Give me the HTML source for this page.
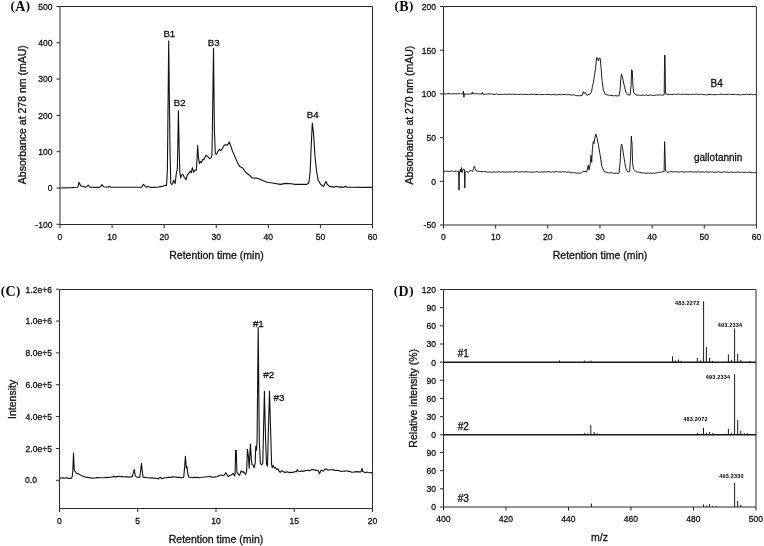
<!DOCTYPE html>
<html><head><meta charset="utf-8"><title>Figure</title>
<style>html,body{margin:0;padding:0;background:#fff;}svg{display:block;}text.s{stroke:#111;stroke-width:0.3px;}</style></head>
<body><svg width="764" height="546" viewBox="0 0 764 546">
<rect x="0" y="0" width="764" height="546" fill="#fff"/>
<line x1="60.0" y1="6.5" x2="372.5" y2="6.5" stroke="#2a2a2a" stroke-width="1"/>
<line x1="60.0" y1="224.5" x2="372.5" y2="224.5" stroke="#2a2a2a" stroke-width="1"/>
<line x1="60.0" y1="6.5" x2="60.0" y2="224.5" stroke="#2a2a2a" stroke-width="1"/>
<line x1="372.5" y1="6.5" x2="372.5" y2="224.5" stroke="#2a2a2a" stroke-width="1"/>
<line x1="56.5" y1="6.5" x2="60.0" y2="6.5" stroke="#2a2a2a" stroke-width="1"/>
<text class="s" transform="translate(52.40 9.80) scale(0.93 1)" font-size="9.2" text-anchor="end" font-family='"Liberation Sans", Arial, sans-serif' fill="#111">500</text>
<line x1="56.5" y1="42.8" x2="60.0" y2="42.8" stroke="#2a2a2a" stroke-width="1"/>
<text class="s" transform="translate(52.40 46.10) scale(0.93 1)" font-size="9.2" text-anchor="end" font-family='"Liberation Sans", Arial, sans-serif' fill="#111">400</text>
<line x1="56.5" y1="79.1" x2="60.0" y2="79.1" stroke="#2a2a2a" stroke-width="1"/>
<text class="s" transform="translate(52.40 82.40) scale(0.93 1)" font-size="9.2" text-anchor="end" font-family='"Liberation Sans", Arial, sans-serif' fill="#111">300</text>
<line x1="56.5" y1="115.39999999999999" x2="60.0" y2="115.39999999999999" stroke="#2a2a2a" stroke-width="1"/>
<text class="s" transform="translate(52.40 118.70) scale(0.93 1)" font-size="9.2" text-anchor="end" font-family='"Liberation Sans", Arial, sans-serif' fill="#111">200</text>
<line x1="56.5" y1="151.7" x2="60.0" y2="151.7" stroke="#2a2a2a" stroke-width="1"/>
<text class="s" transform="translate(52.40 155.00) scale(0.93 1)" font-size="9.2" text-anchor="end" font-family='"Liberation Sans", Arial, sans-serif' fill="#111">100</text>
<line x1="56.5" y1="188.0" x2="60.0" y2="188.0" stroke="#2a2a2a" stroke-width="1"/>
<text class="s" transform="translate(52.40 191.30) scale(0.93 1)" font-size="9.2" text-anchor="end" font-family='"Liberation Sans", Arial, sans-serif' fill="#111">0</text>
<line x1="56.5" y1="224.29999999999998" x2="60.0" y2="224.29999999999998" stroke="#2a2a2a" stroke-width="1"/>
<text class="s" transform="translate(52.40 227.60) scale(0.93 1)" font-size="9.2" text-anchor="end" font-family='"Liberation Sans", Arial, sans-serif' fill="#111">-100</text>
<line x1="60.0" y1="224.5" x2="60.0" y2="228.0" stroke="#2a2a2a" stroke-width="1"/>
<text class="s" transform="translate(60.00 239.90) scale(0.93 1)" font-size="9.2" text-anchor="middle" font-family='"Liberation Sans", Arial, sans-serif' fill="#111">0</text>
<line x1="112.08333333333334" y1="224.5" x2="112.08333333333334" y2="228.0" stroke="#2a2a2a" stroke-width="1"/>
<text class="s" transform="translate(112.08 239.90) scale(0.93 1)" font-size="9.2" text-anchor="middle" font-family='"Liberation Sans", Arial, sans-serif' fill="#111">10</text>
<line x1="164.16666666666669" y1="224.5" x2="164.16666666666669" y2="228.0" stroke="#2a2a2a" stroke-width="1"/>
<text class="s" transform="translate(164.17 239.90) scale(0.93 1)" font-size="9.2" text-anchor="middle" font-family='"Liberation Sans", Arial, sans-serif' fill="#111">20</text>
<line x1="216.25" y1="224.5" x2="216.25" y2="228.0" stroke="#2a2a2a" stroke-width="1"/>
<text class="s" transform="translate(216.25 239.90) scale(0.93 1)" font-size="9.2" text-anchor="middle" font-family='"Liberation Sans", Arial, sans-serif' fill="#111">30</text>
<line x1="268.33333333333337" y1="224.5" x2="268.33333333333337" y2="228.0" stroke="#2a2a2a" stroke-width="1"/>
<text class="s" transform="translate(268.33 239.90) scale(0.93 1)" font-size="9.2" text-anchor="middle" font-family='"Liberation Sans", Arial, sans-serif' fill="#111">40</text>
<line x1="320.4166666666667" y1="224.5" x2="320.4166666666667" y2="228.0" stroke="#2a2a2a" stroke-width="1"/>
<text class="s" transform="translate(320.42 239.90) scale(0.93 1)" font-size="9.2" text-anchor="middle" font-family='"Liberation Sans", Arial, sans-serif' fill="#111">50</text>
<line x1="372.5" y1="224.5" x2="372.5" y2="228.0" stroke="#2a2a2a" stroke-width="1"/>
<text class="s" transform="translate(372.50 239.90) scale(0.93 1)" font-size="9.2" text-anchor="middle" font-family='"Liberation Sans", Arial, sans-serif' fill="#111">60</text>
<text class="s" x="216.5" y="259.2" font-size="10.5" text-anchor="middle" font-weight="normal" font-family='"Liberation Sans", Arial, sans-serif' fill="#111" >Retention time (min)</text>
<text class="s" x="25.7" y="114.7" font-size="10.5" text-anchor="middle" font-weight="normal" font-family='"Liberation Sans", Arial, sans-serif' fill="#111" transform="rotate(-90 25.7 114.7)">Absorbance at 278 nm (mAU)</text>
<text x="10.4" y="10.8" font-size="14" font-weight="bold" font-family='"Liberation Serif", "Times New Roman", serif' fill="#0a0a0a" letter-spacing="0.45"><tspan font-size="13" dy="-0.8">(</tspan><tspan dy="0.8">A</tspan><tspan font-size="13" dy="-0.8">)</tspan></text>
<text class="s" x="163.4" y="37.3" font-size="9.7" text-anchor="start" font-weight="normal" font-family='"Liberation Sans", Arial, sans-serif' fill="#111" >B1</text>
<text class="s" x="173.7" y="105.6" font-size="9.7" text-anchor="start" font-weight="normal" font-family='"Liberation Sans", Arial, sans-serif' fill="#111" >B2</text>
<text class="s" x="207.8" y="45.7" font-size="9.7" text-anchor="start" font-weight="normal" font-family='"Liberation Sans", Arial, sans-serif' fill="#111" >B3</text>
<text class="s" x="306.8" y="118.0" font-size="9.7" text-anchor="start" font-weight="normal" font-family='"Liberation Sans", Arial, sans-serif' fill="#111" >B4</text>
<polyline points="60.5,188.0 71.8,187.6 77.7,187.2 78.5,184.8 79.0,182.2 79.6,183.6 80.8,186.0 83.6,186.4 85.9,187.2 88.3,185.2 89.9,187.2 99.3,187.4 100.8,186.4 102.0,184.6 103.6,186.8 107.9,187.2 109.3,186.2 110.7,187.2 120.0,187.2 141.7,187.2 143.4,184.3 144.9,186.0 146.4,187.2 148.0,186.4 151.1,187.4 157.4,187.2 162.1,186.4 165.3,185.2 166.5,185.6 167.4,170.0 168.7,40.9 170.0,150.0 170.8,183.6 171.6,184.4 172.6,183.8 173.6,180.3 175.1,183.5 176.6,171.2 177.3,170.2 177.9,140.0 178.4,110.9 179.2,150.0 179.8,172.0 180.7,177.8 181.7,174.8 183.2,174.8 184.2,177.3 186.0,179.8 187.2,175.3 189.2,172.7 190.2,171.2 191.2,172.7 192.4,167.7 193.6,172.2 194.8,170.2 196.3,170.3 197.0,160.0 197.6,145.6 198.5,157.5 199.4,163.4 200.5,161.6 201.4,162.5 202.8,159.3 203.7,159.8 206.0,155.2 207.8,156.6 209.7,158.8 211.0,157.9 211.9,155.6 212.4,130.0 213.5,48.2 214.4,130.0 215.3,153.8 216.5,154.3 217.9,151.5 219.3,149.2 220.6,150.6 222.0,149.2 224.3,145.1 226.1,144.7 227.5,145.1 229.3,141.9 230.3,144.7 232.5,151.1 235.3,157.5 238.0,163.9 239.9,166.6 242.6,167.9 245.5,172.0 252.4,177.9 257.9,178.4 267.0,182.3 273.9,183.2 280.3,184.4 285.8,183.4 291.3,183.7 295.0,184.4 306.9,184.4 308.7,183.0 309.1,181.5 310.2,170.8 311.2,146.2 312.3,123.1 313.5,133.0 314.8,154.4 316.5,170.8 318.1,179.9 320.6,184.3 323.6,186.4 325.2,183.0 326.1,181.5 327.2,184.4 329.4,186.4 334.4,187.1 336.6,186.2 338.7,187.1 341.6,186.9 343.8,187.3 345.6,186.2 347.0,187.3 372.0,187.4" fill="none" stroke="#111" stroke-width="1.1" stroke-linejoin="round" shape-rendering="auto"/>
<line x1="443.5" y1="6.5" x2="756.4" y2="6.5" stroke="#2a2a2a" stroke-width="1"/>
<line x1="443.5" y1="225.0" x2="756.4" y2="225.0" stroke="#2a2a2a" stroke-width="1"/>
<line x1="443.5" y1="6.5" x2="443.5" y2="225.0" stroke="#2a2a2a" stroke-width="1"/>
<line x1="756.4" y1="6.5" x2="756.4" y2="225.0" stroke="#2a2a2a" stroke-width="1"/>
<line x1="440.0" y1="6.5" x2="443.5" y2="6.5" stroke="#2a2a2a" stroke-width="1"/>
<text class="s" transform="translate(435.90 9.80) scale(0.93 1)" font-size="9.2" text-anchor="end" font-family='"Liberation Sans", Arial, sans-serif' fill="#111">200</text>
<line x1="440.0" y1="50.2" x2="443.5" y2="50.2" stroke="#2a2a2a" stroke-width="1"/>
<text class="s" transform="translate(435.90 53.50) scale(0.93 1)" font-size="9.2" text-anchor="end" font-family='"Liberation Sans", Arial, sans-serif' fill="#111">150</text>
<line x1="440.0" y1="93.9" x2="443.5" y2="93.9" stroke="#2a2a2a" stroke-width="1"/>
<text class="s" transform="translate(435.90 97.20) scale(0.93 1)" font-size="9.2" text-anchor="end" font-family='"Liberation Sans", Arial, sans-serif' fill="#111">100</text>
<line x1="440.0" y1="137.6" x2="443.5" y2="137.6" stroke="#2a2a2a" stroke-width="1"/>
<text class="s" transform="translate(435.90 140.90) scale(0.93 1)" font-size="9.2" text-anchor="end" font-family='"Liberation Sans", Arial, sans-serif' fill="#111">50</text>
<line x1="440.0" y1="181.3" x2="443.5" y2="181.3" stroke="#2a2a2a" stroke-width="1"/>
<text class="s" transform="translate(435.90 184.60) scale(0.93 1)" font-size="9.2" text-anchor="end" font-family='"Liberation Sans", Arial, sans-serif' fill="#111">0</text>
<line x1="440.0" y1="225.0" x2="443.5" y2="225.0" stroke="#2a2a2a" stroke-width="1"/>
<text class="s" transform="translate(435.90 228.30) scale(0.93 1)" font-size="9.2" text-anchor="end" font-family='"Liberation Sans", Arial, sans-serif' fill="#111">-50</text>
<line x1="443.5" y1="225.0" x2="443.5" y2="228.5" stroke="#2a2a2a" stroke-width="1"/>
<text class="s" transform="translate(443.50 240.40) scale(0.93 1)" font-size="9.2" text-anchor="middle" font-family='"Liberation Sans", Arial, sans-serif' fill="#111">0</text>
<line x1="495.65" y1="225.0" x2="495.65" y2="228.5" stroke="#2a2a2a" stroke-width="1"/>
<text class="s" transform="translate(495.65 240.40) scale(0.93 1)" font-size="9.2" text-anchor="middle" font-family='"Liberation Sans", Arial, sans-serif' fill="#111">10</text>
<line x1="547.8" y1="225.0" x2="547.8" y2="228.5" stroke="#2a2a2a" stroke-width="1"/>
<text class="s" transform="translate(547.80 240.40) scale(0.93 1)" font-size="9.2" text-anchor="middle" font-family='"Liberation Sans", Arial, sans-serif' fill="#111">20</text>
<line x1="599.95" y1="225.0" x2="599.95" y2="228.5" stroke="#2a2a2a" stroke-width="1"/>
<text class="s" transform="translate(599.95 240.40) scale(0.93 1)" font-size="9.2" text-anchor="middle" font-family='"Liberation Sans", Arial, sans-serif' fill="#111">30</text>
<line x1="652.1" y1="225.0" x2="652.1" y2="228.5" stroke="#2a2a2a" stroke-width="1"/>
<text class="s" transform="translate(652.10 240.40) scale(0.93 1)" font-size="9.2" text-anchor="middle" font-family='"Liberation Sans", Arial, sans-serif' fill="#111">40</text>
<line x1="704.25" y1="225.0" x2="704.25" y2="228.5" stroke="#2a2a2a" stroke-width="1"/>
<text class="s" transform="translate(704.25 240.40) scale(0.93 1)" font-size="9.2" text-anchor="middle" font-family='"Liberation Sans", Arial, sans-serif' fill="#111">50</text>
<line x1="756.4" y1="225.0" x2="756.4" y2="228.5" stroke="#2a2a2a" stroke-width="1"/>
<text class="s" transform="translate(756.40 240.40) scale(0.93 1)" font-size="9.2" text-anchor="middle" font-family='"Liberation Sans", Arial, sans-serif' fill="#111">60</text>
<text class="s" x="600" y="259.2" font-size="10.5" text-anchor="middle" font-weight="normal" font-family='"Liberation Sans", Arial, sans-serif' fill="#111" >Retention time (min)</text>
<text class="s" x="412.6" y="115.1" font-size="10.5" text-anchor="middle" font-weight="normal" font-family='"Liberation Sans", Arial, sans-serif' fill="#111" transform="rotate(-90 412.6 115.1)">Absorbance at 270 nm (mAU)</text>
<text x="394.5" y="10.8" font-size="14" font-weight="bold" font-family='"Liberation Serif", "Times New Roman", serif' fill="#0a0a0a" letter-spacing="0.45"><tspan font-size="13" dy="-0.8">(</tspan><tspan dy="0.8">B</tspan><tspan font-size="13" dy="-0.8">)</tspan></text>
<text class="s" x="710.5" y="86.6" font-size="10" text-anchor="start" font-weight="normal" font-family='"Liberation Sans", Arial, sans-serif' fill="#111" >B4</text>
<text class="s" x="694" y="160.7" font-size="10" text-anchor="start" font-weight="normal" font-family='"Liberation Sans", Arial, sans-serif' fill="#111" >gallotannin</text>
<polyline points="444.0,93.7 445.3,94.0 446.5,94.0 447.8,93.5 449.1,93.5 450.3,93.9 451.6,93.9 452.9,93.8 454.1,93.6 455.4,93.8 456.7,93.8 457.9,93.8 459.2,93.6 460.5,93.7 461.7,93.7 463.0,93.8 463.4,91.0 463.9,97.4 464.4,93.8 465.7,94.0 466.9,94.1 468.2,94.1 469.5,93.9 470.7,93.9 472.0,93.9 472.3,91.9 472.8,93.9 474.1,93.8 475.5,93.7 476.8,93.7 478.2,93.9 479.5,93.9 480.9,93.9 482.2,94.0 482.4,92.4 482.8,94.1 484.0,94.3 485.3,94.1 486.5,94.2 487.8,94.0 489.0,93.8 490.2,94.0 491.5,93.9 492.7,94.2 494.0,94.5 495.2,94.3 496.4,94.0 497.7,94.4 498.9,94.4 500.2,94.3 501.4,94.4 502.6,94.4 503.9,94.4 505.1,94.1 506.4,94.5 507.6,94.5 508.8,94.0 510.1,94.4 511.3,94.4 512.6,94.2 513.8,94.3 515.0,94.3 516.3,94.5 517.5,94.3 518.8,94.5 520.0,94.3 521.2,94.2 522.4,94.5 523.7,94.6 524.9,94.3 526.1,94.4 527.3,94.6 528.5,94.5 529.8,94.4 531.0,94.2 532.2,94.3 533.4,94.5 534.6,94.2 535.9,94.7 537.1,94.3 538.3,94.7 539.5,94.3 540.7,94.7 542.0,94.6 543.2,94.5 544.4,94.5 545.6,94.6 546.8,94.6 548.0,94.4 549.3,94.4 550.5,94.6 551.7,94.8 552.9,94.6 554.1,94.3 555.4,94.8 556.6,94.7 557.8,94.8 559.0,94.4 560.2,94.8 561.5,94.4 562.7,94.7 563.9,94.5 565.1,94.5 566.3,94.9 567.6,94.4 568.8,94.7 570.0,94.7 571.4,95.1 572.8,94.8 574.1,95.0 575.5,95.3 576.7,95.7 578.0,95.6 579.2,95.8 580.8,95.7 582.4,95.3 583.3,91.7 584.2,93.5 585.1,92.3 586.9,95.3 588.3,94.6 589.7,94.4 591.5,92.1 592.4,86.6 593.4,82.5 594.5,74.7 595.6,68.3 596.6,57.8 597.5,57.8 598.4,61.0 599.1,58.2 600.2,58.2 601.1,68.3 602.0,80.2 603.4,90.3 605.3,94.4 606.9,94.8 608.5,95.3 609.7,95.2 610.9,95.6 612.1,95.3 613.4,95.9 614.6,95.4 615.8,95.8 617.4,95.9 619.0,95.8 620.0,90.3 620.8,79.2 621.5,74.2 622.2,76.2 623.1,80.2 624.6,87.3 626.1,92.8 628.1,94.8 630.1,95.1 631.1,85.3 631.6,69.7 632.3,70.7 632.9,85.3 633.6,92.3 635.1,94.3 637.1,95.3 638.3,95.0 639.5,95.2 640.7,95.5 642.0,95.1 643.2,95.1 644.4,95.4 645.6,95.2 646.8,95.0 648.0,95.6 649.2,95.1 650.4,95.0 651.7,95.2 652.9,95.4 654.1,95.4 655.3,95.3 656.6,95.0 657.8,95.1 659.1,94.8 660.4,95.0 661.7,95.1 662.9,95.0 664.2,94.8 664.6,55.1 665.0,55.1 665.5,93.3 667.0,94.3 668.2,94.5 669.5,94.5 670.7,94.5 672.0,94.5 673.2,94.3 674.5,94.2 675.7,94.5 676.9,94.3 678.2,94.1 679.4,94.3 680.7,94.6 681.9,94.2 683.1,94.5 684.4,94.3 685.6,94.4 686.9,94.2 688.1,94.7 689.4,94.3 690.6,94.5 691.8,94.4 693.1,94.2 694.3,94.5 695.6,94.3 696.8,94.2 698.1,94.2 699.3,94.5 700.5,94.3 701.7,94.3 702.9,94.6 704.1,94.5 705.3,94.8 706.5,94.8 707.7,94.8 709.0,94.4 710.2,94.5 711.4,94.4 712.6,94.6 713.8,94.6 715.0,94.7 716.2,94.7 717.4,94.4 718.6,94.5 719.8,94.6 721.0,94.2 722.2,94.3 723.4,94.5 724.6,94.3 725.8,94.7 727.0,94.4 728.3,94.3 729.5,94.4 730.7,94.4 731.9,94.4 733.1,94.6 734.3,94.5 735.5,94.4 736.7,94.7 737.9,94.4 739.1,94.8 740.3,94.9 741.5,94.7 742.7,94.5 743.9,94.6 745.1,94.6 746.3,94.3 747.6,94.5 748.8,94.6 750.0,94.4 751.2,94.3 752.4,94.8 753.6,94.5 754.8,94.6 756.0,94.6" fill="none" stroke="#111" stroke-width="0.95" stroke-linejoin="round" shape-rendering="auto"/>
<polyline points="444.0,171.3 445.2,171.1 446.4,171.3 447.6,171.2 448.9,171.4 450.1,171.4 451.3,171.0 452.5,171.0 453.7,171.5 455.0,171.2 456.2,171.1 457.4,171.6 458.6,171.3 459.0,190.0 459.4,173.1 460.4,169.1 460.9,171.9 461.5,167.6 462.0,172.7 462.6,170.7 463.3,169.0 464.4,169.5 464.8,188.0 465.2,171.9 466.6,171.5 468.5,172.4 470.1,170.3 471.3,170.6 472.5,171.5 473.6,168.4 474.4,166.0 475.2,168.7 476.4,171.1 477.9,171.2 479.4,171.5 480.8,171.4 482.3,171.5 483.6,171.7 484.9,171.5 486.2,171.9 487.5,172.1 488.8,172.0 490.1,172.1 491.4,172.2 492.7,172.2 494.0,171.8 495.3,172.2 496.6,172.1 497.8,171.9 499.1,171.7 500.4,172.2 501.7,171.9 503.0,171.9 504.2,172.0 505.4,172.1 506.6,172.0 507.9,172.1 509.1,171.8 510.3,172.1 511.5,171.9 512.7,172.1 513.9,172.1 515.1,171.6 516.3,171.7 517.6,171.7 518.8,172.2 520.0,171.8 521.2,171.9 522.4,171.7 523.6,171.9 524.8,171.8 526.0,171.8 527.3,171.9 528.5,171.9 529.7,172.1 530.9,172.0 532.1,172.1 533.3,172.1 534.5,172.1 535.7,171.9 537.0,171.6 538.2,172.1 539.4,172.1 540.6,172.1 541.8,171.9 543.0,172.0 544.2,171.7 545.4,172.0 546.7,171.9 547.9,171.7 549.1,171.6 550.3,172.0 551.5,172.1 552.7,171.6 553.9,172.0 555.1,171.8 556.4,171.6 557.6,171.7 558.8,172.0 560.0,171.8 561.4,172.1 562.7,171.6 564.0,172.0 565.4,171.7 566.8,172.2 568.1,172.1 569.5,172.1 570.9,172.6 572.3,172.8 573.7,172.7 575.1,172.8 576.4,173.2 577.6,173.0 578.9,173.0 580.1,173.4 581.7,172.5 583.2,171.5 585.0,171.5 586.7,172.1 588.2,165.3 589.0,169.8 590.2,164.3 591.0,155.2 591.7,162.3 592.4,149.2 593.2,141.6 594.0,143.6 594.8,138.1 595.8,134.1 596.8,137.1 598.3,144.1 600.3,156.2 601.8,166.3 604.3,171.8 605.7,172.0 607.0,172.4 608.4,172.8 609.7,172.9 611.0,172.8 612.4,172.8 613.7,173.3 615.0,173.2 616.3,173.1 617.7,173.4 619.0,173.1 620.1,163.3 620.9,147.1 621.6,144.1 622.3,146.6 623.6,155.2 625.6,167.3 627.1,171.3 628.4,171.8 629.6,171.8 630.6,157.2 631.3,136.1 632.1,145.1 632.6,163.3 633.6,169.3 634.9,170.5 636.2,171.8 637.4,172.0 638.6,172.2 639.8,172.5 641.0,172.7 642.2,172.8 643.5,172.9 644.7,173.0 646.0,173.3 647.2,173.1 648.5,173.1 649.8,173.3 651.0,173.1 652.3,173.3 653.6,173.0 654.9,173.3 656.2,172.8 657.5,172.7 658.9,172.2 660.2,172.2 661.5,172.2 662.8,171.7 664.1,171.8 664.6,141.6 665.1,155.2 665.5,170.8 666.9,172.1 668.2,172.1 669.5,172.0 670.7,171.6 672.0,171.8 673.2,171.9 674.4,171.8 675.6,171.9 676.8,171.7 678.0,172.0 679.2,172.0 680.4,171.6 681.6,171.6 682.8,172.0 684.0,172.2 685.2,171.7 686.4,171.9 687.6,172.0 688.8,171.8 690.0,171.8 691.2,171.8 692.4,171.9 693.6,172.0 694.8,171.8 696.0,171.9 697.2,172.1 698.4,171.7 699.6,172.0 700.8,172.1 702.0,171.9 703.2,171.9 704.4,172.2 705.6,171.9 706.8,171.9 708.0,172.0 709.2,172.2 710.4,171.8 711.6,172.0 712.8,172.0 714.0,172.3 715.2,172.1 716.4,172.3 717.6,171.9 718.8,172.0 720.0,172.2 721.2,172.4 722.4,172.1 723.6,172.0 724.8,171.9 726.0,172.2 727.2,172.0 728.4,172.4 729.6,172.4 730.8,172.0 732.0,172.1 733.2,172.4 734.4,172.3 735.6,172.4 736.8,172.2 738.0,172.0 739.2,172.2 740.4,172.5 741.6,172.2 742.8,172.2 744.0,172.3 745.2,172.3 746.4,172.3 747.6,172.6 748.8,172.1 750.0,172.1 751.2,172.6 752.4,172.6 753.6,172.7 754.8,172.4 756.0,172.4" fill="none" stroke="#111" stroke-width="0.95" stroke-linejoin="round" shape-rendering="auto"/>
<line x1="59.5" y1="289.5" x2="372.5" y2="289.5" stroke="#2a2a2a" stroke-width="1"/>
<line x1="59.5" y1="508.5" x2="372.5" y2="508.5" stroke="#2a2a2a" stroke-width="1"/>
<line x1="59.5" y1="289.5" x2="59.5" y2="508.5" stroke="#2a2a2a" stroke-width="1"/>
<line x1="372.5" y1="289.5" x2="372.5" y2="508.5" stroke="#2a2a2a" stroke-width="1"/>
<line x1="56.0" y1="289.2" x2="59.5" y2="289.2" stroke="#2a2a2a" stroke-width="1"/>
<text class="s" transform="translate(51.90 292.50) scale(0.93 1)" font-size="9.2" text-anchor="end" font-family='"Liberation Sans", Arial, sans-serif' fill="#111">1.2e+6</text>
<line x1="56.0" y1="321.05" x2="59.5" y2="321.05" stroke="#2a2a2a" stroke-width="1"/>
<text class="s" transform="translate(51.90 324.35) scale(0.93 1)" font-size="9.2" text-anchor="end" font-family='"Liberation Sans", Arial, sans-serif' fill="#111">1.0e+6</text>
<line x1="56.0" y1="352.9" x2="59.5" y2="352.9" stroke="#2a2a2a" stroke-width="1"/>
<text class="s" transform="translate(51.90 356.20) scale(0.93 1)" font-size="9.2" text-anchor="end" font-family='"Liberation Sans", Arial, sans-serif' fill="#111">8.0e+5</text>
<line x1="56.0" y1="384.75" x2="59.5" y2="384.75" stroke="#2a2a2a" stroke-width="1"/>
<text class="s" transform="translate(51.90 388.05) scale(0.93 1)" font-size="9.2" text-anchor="end" font-family='"Liberation Sans", Arial, sans-serif' fill="#111">6.0e+5</text>
<line x1="56.0" y1="416.6" x2="59.5" y2="416.6" stroke="#2a2a2a" stroke-width="1"/>
<text class="s" transform="translate(51.90 419.90) scale(0.93 1)" font-size="9.2" text-anchor="end" font-family='"Liberation Sans", Arial, sans-serif' fill="#111">4.0e+5</text>
<line x1="56.0" y1="448.45" x2="59.5" y2="448.45" stroke="#2a2a2a" stroke-width="1"/>
<text class="s" transform="translate(51.90 451.75) scale(0.93 1)" font-size="9.2" text-anchor="end" font-family='"Liberation Sans", Arial, sans-serif' fill="#111">2.0e+5</text>
<line x1="56.0" y1="480.3" x2="59.5" y2="480.3" stroke="#2a2a2a" stroke-width="1"/>
<text class="s" transform="translate(25.10 483.10) scale(0.93 1)" font-size="9.2" text-anchor="start" font-family='"Liberation Sans", Arial, sans-serif' fill="#111">0.0</text>
<line x1="59.5" y1="508.5" x2="59.5" y2="512.0" stroke="#2a2a2a" stroke-width="1"/>
<text class="s" transform="translate(59.50 523.90) scale(0.93 1)" font-size="9.2" text-anchor="middle" font-family='"Liberation Sans", Arial, sans-serif' fill="#111">0</text>
<line x1="137.75" y1="508.5" x2="137.75" y2="512.0" stroke="#2a2a2a" stroke-width="1"/>
<text class="s" transform="translate(137.75 523.90) scale(0.93 1)" font-size="9.2" text-anchor="middle" font-family='"Liberation Sans", Arial, sans-serif' fill="#111">5</text>
<line x1="216.0" y1="508.5" x2="216.0" y2="512.0" stroke="#2a2a2a" stroke-width="1"/>
<text class="s" transform="translate(216.00 523.90) scale(0.93 1)" font-size="9.2" text-anchor="middle" font-family='"Liberation Sans", Arial, sans-serif' fill="#111">10</text>
<line x1="294.25" y1="508.5" x2="294.25" y2="512.0" stroke="#2a2a2a" stroke-width="1"/>
<text class="s" transform="translate(294.25 523.90) scale(0.93 1)" font-size="9.2" text-anchor="middle" font-family='"Liberation Sans", Arial, sans-serif' fill="#111">15</text>
<line x1="372.5" y1="508.5" x2="372.5" y2="512.0" stroke="#2a2a2a" stroke-width="1"/>
<text class="s" transform="translate(372.50 523.90) scale(0.93 1)" font-size="9.2" text-anchor="middle" font-family='"Liberation Sans", Arial, sans-serif' fill="#111">20</text>
<text class="s" x="216" y="542.5" font-size="10.5" text-anchor="middle" font-weight="normal" font-family='"Liberation Sans", Arial, sans-serif' fill="#111" >Retention time (min)</text>
<text class="s" x="16.3" y="399.4" font-size="10.5" text-anchor="middle" font-weight="normal" font-family='"Liberation Sans", Arial, sans-serif' fill="#111" transform="rotate(-90 16.3 399.4)">Intensity</text>
<text x="0.7" y="295.9" font-size="14" font-weight="bold" font-family='"Liberation Serif", "Times New Roman", serif' fill="#0a0a0a" letter-spacing="0.45"><tspan font-size="13" dy="-0.8">(</tspan><tspan dy="0.8">C</tspan><tspan font-size="13" dy="-0.8">)</tspan></text>
<text class="s" x="252.9" y="326.9" font-size="9.8" text-anchor="start" font-weight="normal" font-family='"Liberation Sans", Arial, sans-serif' fill="#111" >#1</text>
<text class="s" x="263.3" y="377.9" font-size="9.8" text-anchor="start" font-weight="normal" font-family='"Liberation Sans", Arial, sans-serif' fill="#111" >#2</text>
<text class="s" x="273.5" y="400.6" font-size="9.8" text-anchor="start" font-weight="normal" font-family='"Liberation Sans", Arial, sans-serif' fill="#111" >#3</text>
<polyline points="60.0,478.2 61.3,478.0 62.6,477.9 63.9,478.1 65.2,478.0 66.4,477.9 67.7,478.1 69.0,478.5 70.3,478.4 71.6,478.2 72.4,475.6 72.8,471.4 73.5,453.1 74.2,469.3 74.7,470.9 76.3,473.0 77.5,473.7 78.7,473.9 79.9,474.6 81.2,475.4 82.6,476.1 83.8,476.4 85.0,476.8 86.2,477.5 87.6,477.4 89.0,477.6 90.4,477.9 91.7,478.2 93.0,478.1 94.3,478.0 95.7,478.0 97.0,477.6 98.3,477.6 99.6,477.8 100.9,477.7 102.2,477.8 103.5,477.8 104.8,477.8 106.2,477.2 107.5,477.5 108.8,477.4 110.1,477.3 111.4,477.2 113.5,476.4 115.5,476.9 116.8,476.6 118.0,476.7 119.3,476.3 120.5,476.8 121.8,476.4 123.2,476.8 124.6,476.8 126.0,476.9 127.3,476.7 128.5,477.1 129.8,476.8 131.0,476.9 132.3,476.6 133.6,471.9 134.3,469.5 135.2,475.6 136.5,477.0 138.2,477.4 139.8,477.3 140.7,470.1 141.5,463.3 142.3,471.4 143.1,477.3 144.4,477.4 145.7,477.5 147.0,477.8 148.3,477.8 149.6,478.0 150.9,477.8 152.2,477.9 153.6,478.2 154.9,478.0 156.5,478.2 158.1,479.0 159.4,477.8 160.8,477.3 161.4,478.6 162.7,478.4 164.0,478.0 165.3,477.7 166.6,477.7 167.9,477.4 169.3,477.2 170.6,477.4 171.9,476.9 173.2,476.8 174.5,477.0 175.8,477.0 177.2,477.4 178.5,477.2 179.8,477.4 181.1,477.8 182.4,477.7 183.7,477.3 184.7,466.2 185.4,456.4 186.3,468.1 186.9,466.2 187.9,474.0 188.9,477.3 190.2,477.3 191.5,477.5 192.8,477.8 194.1,477.3 195.4,477.7 196.7,477.3 198.0,477.4 199.4,477.7 200.7,477.5 202.0,477.2 203.3,477.3 204.6,477.0 205.9,476.7 207.2,476.7 208.5,476.6 209.8,476.3 211.1,476.9 212.5,477.1 213.8,477.2 215.1,476.9 216.4,476.7 217.7,476.5 219.0,475.5 220.3,475.3 221.6,475.1 222.9,475.5 224.2,475.3 225.8,472.7 227.5,475.6 228.0,476.4 230.0,475.4 231.6,474.9 233.1,473.3 234.6,475.9 235.1,473.3 235.6,450.2 236.3,450.2 236.9,472.3 238.1,473.9 239.6,475.4 241.1,470.8 242.1,472.3 243.1,471.3 244.7,473.3 245.7,474.4 246.7,470.3 247.4,449.2 248.4,456.2 249.2,468.3 250.4,444.1 251.4,460.2 252.0,464.3 253.0,464.8 254.0,467.8 255.2,463.3 255.7,446.6 256.5,450.2 257.1,440.1 258.2,327.4 259.3,440.0 260.3,463.3 261.8,464.8 262.8,463.3 264.4,391.4 265.6,440.0 266.5,464.3 267.5,466.3 268.4,430.0 269.5,391.0 270.6,430.0 271.6,464.4 272.2,467.6 273.1,465.6 274.3,468.0 275.5,467.6 276.7,469.5 277.9,468.7 278.6,470.3 280.2,472.3 281.8,470.7 283.4,471.9 285.7,472.4 287.3,471.7 288.9,472.4 290.2,472.6 291.5,472.3 292.8,472.4 295.1,471.5 296.3,471.9 297.3,469.5 298.3,471.3 299.9,471.5 301.4,471.1 302.7,471.1 304.0,471.1 305.3,470.7 306.6,470.5 308.0,470.4 309.3,470.6 310.6,470.2 311.9,469.6 313.2,469.5 314.5,469.7 315.8,470.4 317.1,470.3 318.3,470.7 319.5,473.7 320.7,470.7 321.4,470.1 323.2,471.2 324.7,469.4 326.1,468.7 327.9,470.1 329.2,470.0 330.5,469.8 331.8,469.8 333.1,469.9 334.4,470.1 335.6,470.5 336.8,470.4 338.0,470.5 339.2,470.6 340.4,471.4 341.6,471.2 343.0,471.2 344.5,471.1 345.9,471.0 347.4,471.0 348.8,471.4 350.2,471.6 351.7,472.3 353.1,472.3 354.6,471.8 356.0,471.9 357.2,471.6 358.5,471.9 359.8,471.7 361.0,471.9 362.1,468.3 362.8,471.6 364.6,472.3 365.8,472.7 367.1,472.1 368.3,472.5 369.5,472.7 370.8,472.5 372.0,472.6" fill="none" stroke="#111" stroke-width="1.1" stroke-linejoin="round" shape-rendering="auto"/>
<line x1="443.5" y1="289.5" x2="756.0" y2="289.5" stroke="#2a2a2a" stroke-width="1"/>
<line x1="443.5" y1="507.0" x2="756.0" y2="507.0" stroke="#2a2a2a" stroke-width="1"/>
<line x1="443.5" y1="289.5" x2="443.5" y2="507.0" stroke="#2a2a2a" stroke-width="1"/>
<line x1="756.0" y1="289.5" x2="756.0" y2="507.0" stroke="#2a2a2a" stroke-width="1"/>
<line x1="440.0" y1="289.5" x2="443.5" y2="289.5" stroke="#2a2a2a" stroke-width="1"/>
<text class="s" transform="translate(435.90 292.80) scale(0.93 1)" font-size="9.2" text-anchor="end" font-family='"Liberation Sans", Arial, sans-serif' fill="#111">120</text>
<line x1="440.0" y1="307.675" x2="443.5" y2="307.675" stroke="#2a2a2a" stroke-width="1"/>
<text class="s" transform="translate(435.90 310.98) scale(0.93 1)" font-size="9.2" text-anchor="end" font-family='"Liberation Sans", Arial, sans-serif' fill="#111">90</text>
<line x1="440.0" y1="325.85" x2="443.5" y2="325.85" stroke="#2a2a2a" stroke-width="1"/>
<text class="s" transform="translate(435.90 329.15) scale(0.93 1)" font-size="9.2" text-anchor="end" font-family='"Liberation Sans", Arial, sans-serif' fill="#111">60</text>
<line x1="440.0" y1="344.025" x2="443.5" y2="344.025" stroke="#2a2a2a" stroke-width="1"/>
<text class="s" transform="translate(435.90 347.32) scale(0.93 1)" font-size="9.2" text-anchor="end" font-family='"Liberation Sans", Arial, sans-serif' fill="#111">30</text>
<line x1="440.0" y1="362.2" x2="443.5" y2="362.2" stroke="#2a2a2a" stroke-width="1"/>
<text class="s" transform="translate(435.90 365.50) scale(0.93 1)" font-size="9.2" text-anchor="end" font-family='"Liberation Sans", Arial, sans-serif' fill="#111">0</text>
<line x1="440.0" y1="380.27500000000003" x2="443.5" y2="380.27500000000003" stroke="#2a2a2a" stroke-width="1"/>
<text class="s" transform="translate(435.90 383.58) scale(0.93 1)" font-size="9.2" text-anchor="end" font-family='"Liberation Sans", Arial, sans-serif' fill="#111">90</text>
<line x1="440.0" y1="398.45000000000005" x2="443.5" y2="398.45000000000005" stroke="#2a2a2a" stroke-width="1"/>
<text class="s" transform="translate(435.90 401.75) scale(0.93 1)" font-size="9.2" text-anchor="end" font-family='"Liberation Sans", Arial, sans-serif' fill="#111">60</text>
<line x1="440.0" y1="416.625" x2="443.5" y2="416.625" stroke="#2a2a2a" stroke-width="1"/>
<text class="s" transform="translate(435.90 419.93) scale(0.93 1)" font-size="9.2" text-anchor="end" font-family='"Liberation Sans", Arial, sans-serif' fill="#111">30</text>
<line x1="440.0" y1="434.8" x2="443.5" y2="434.8" stroke="#2a2a2a" stroke-width="1"/>
<text class="s" transform="translate(435.90 438.10) scale(0.93 1)" font-size="9.2" text-anchor="end" font-family='"Liberation Sans", Arial, sans-serif' fill="#111">0</text>
<line x1="440.0" y1="452.475" x2="443.5" y2="452.475" stroke="#2a2a2a" stroke-width="1"/>
<text class="s" transform="translate(435.90 455.78) scale(0.93 1)" font-size="9.2" text-anchor="end" font-family='"Liberation Sans", Arial, sans-serif' fill="#111">90</text>
<line x1="440.0" y1="470.65" x2="443.5" y2="470.65" stroke="#2a2a2a" stroke-width="1"/>
<text class="s" transform="translate(435.90 473.95) scale(0.93 1)" font-size="9.2" text-anchor="end" font-family='"Liberation Sans", Arial, sans-serif' fill="#111">60</text>
<line x1="440.0" y1="488.825" x2="443.5" y2="488.825" stroke="#2a2a2a" stroke-width="1"/>
<text class="s" transform="translate(435.90 492.12) scale(0.93 1)" font-size="9.2" text-anchor="end" font-family='"Liberation Sans", Arial, sans-serif' fill="#111">30</text>
<line x1="440.0" y1="507.0" x2="443.5" y2="507.0" stroke="#2a2a2a" stroke-width="1"/>
<text class="s" transform="translate(435.90 510.30) scale(0.93 1)" font-size="9.2" text-anchor="end" font-family='"Liberation Sans", Arial, sans-serif' fill="#111">0</text>
<line x1="443.5" y1="507.0" x2="443.5" y2="510.5" stroke="#2a2a2a" stroke-width="1"/>
<text class="s" transform="translate(443.50 522.40) scale(0.93 1)" font-size="9.2" text-anchor="middle" font-family='"Liberation Sans", Arial, sans-serif' fill="#111">400</text>
<line x1="506.0" y1="507.0" x2="506.0" y2="510.5" stroke="#2a2a2a" stroke-width="1"/>
<text class="s" transform="translate(506.00 522.40) scale(0.93 1)" font-size="9.2" text-anchor="middle" font-family='"Liberation Sans", Arial, sans-serif' fill="#111">420</text>
<line x1="568.5" y1="507.0" x2="568.5" y2="510.5" stroke="#2a2a2a" stroke-width="1"/>
<text class="s" transform="translate(568.50 522.40) scale(0.93 1)" font-size="9.2" text-anchor="middle" font-family='"Liberation Sans", Arial, sans-serif' fill="#111">440</text>
<line x1="631.0" y1="507.0" x2="631.0" y2="510.5" stroke="#2a2a2a" stroke-width="1"/>
<text class="s" transform="translate(631.00 522.40) scale(0.93 1)" font-size="9.2" text-anchor="middle" font-family='"Liberation Sans", Arial, sans-serif' fill="#111">460</text>
<line x1="693.5" y1="507.0" x2="693.5" y2="510.5" stroke="#2a2a2a" stroke-width="1"/>
<text class="s" transform="translate(693.50 522.40) scale(0.93 1)" font-size="9.2" text-anchor="middle" font-family='"Liberation Sans", Arial, sans-serif' fill="#111">480</text>
<line x1="756.0" y1="507.0" x2="756.0" y2="510.5" stroke="#2a2a2a" stroke-width="1"/>
<text class="s" transform="translate(756.00 522.40) scale(0.93 1)" font-size="9.2" text-anchor="middle" font-family='"Liberation Sans", Arial, sans-serif' fill="#111">500</text>
<text class="s" x="599.5" y="540.8" font-size="10.5" text-anchor="middle" font-weight="normal" font-family='"Liberation Sans", Arial, sans-serif' fill="#111" >m/z</text>
<text class="s" x="417.2" y="398.3" font-size="10.5" text-anchor="middle" font-weight="normal" font-family='"Liberation Sans", Arial, sans-serif' fill="#111" transform="rotate(-90 417.2 398.3)">Relative intensity (%)</text>
<text x="393.8" y="295.9" font-size="14" font-weight="bold" font-family='"Liberation Serif", "Times New Roman", serif' fill="#0a0a0a" letter-spacing="0.45"><tspan font-size="13" dy="-0.8">(</tspan><tspan dy="0.8">D</tspan><tspan font-size="13" dy="-0.8">)</tspan></text>
<text class="s" x="457.8" y="357.0" font-size="10" text-anchor="start" font-weight="normal" font-family='"Liberation Sans", Arial, sans-serif' fill="#111" >#1</text>
<line x1="443.5" y1="362.2" x2="756.0" y2="362.2" stroke="#1a1a1a" stroke-width="1.5"/>
<text class="s" x="457.8" y="429.6" font-size="10" text-anchor="start" font-weight="normal" font-family='"Liberation Sans", Arial, sans-serif' fill="#111" >#2</text>
<line x1="443.5" y1="434.8" x2="756.0" y2="434.8" stroke="#1a1a1a" stroke-width="1.5"/>
<text class="s" x="457.8" y="501.8" font-size="10" text-anchor="start" font-weight="normal" font-family='"Liberation Sans", Arial, sans-serif' fill="#111" >#3</text>
<line x1="559.5" y1="362.2" x2="559.5" y2="360.5" stroke="#1a1a1a" stroke-width="1"/>
<line x1="584.4" y1="362.2" x2="584.4" y2="360.6" stroke="#1a1a1a" stroke-width="1"/>
<line x1="590.9" y1="362.2" x2="590.9" y2="360.6" stroke="#1a1a1a" stroke-width="1"/>
<line x1="672.5" y1="362.2" x2="672.5" y2="356.3" stroke="#1a1a1a" stroke-width="1"/>
<line x1="675.3" y1="362.2" x2="675.3" y2="360.4" stroke="#1a1a1a" stroke-width="1"/>
<line x1="678.5" y1="362.2" x2="678.5" y2="359.6" stroke="#1a1a1a" stroke-width="1"/>
<line x1="681.1" y1="362.2" x2="681.1" y2="360.9" stroke="#1a1a1a" stroke-width="1"/>
<line x1="697.3" y1="362.2" x2="697.3" y2="358" stroke="#1a1a1a" stroke-width="1"/>
<line x1="700.5" y1="362.2" x2="700.5" y2="360.5" stroke="#1a1a1a" stroke-width="1"/>
<line x1="703.6" y1="362.2" x2="703.6" y2="301.3" stroke="#1a1a1a" stroke-width="1"/>
<line x1="706.4" y1="362.2" x2="706.4" y2="346.9" stroke="#1a1a1a" stroke-width="1"/>
<line x1="709.6" y1="362.2" x2="709.6" y2="357.8" stroke="#1a1a1a" stroke-width="1"/>
<line x1="712.6" y1="362.2" x2="712.6" y2="360.9" stroke="#1a1a1a" stroke-width="1"/>
<line x1="728.4" y1="362.2" x2="728.4" y2="354.4" stroke="#1a1a1a" stroke-width="1"/>
<line x1="731.4" y1="362.2" x2="731.4" y2="359.9" stroke="#1a1a1a" stroke-width="1"/>
<line x1="734.6" y1="362.2" x2="734.6" y2="328.5" stroke="#1a1a1a" stroke-width="1"/>
<line x1="737.7" y1="362.2" x2="737.7" y2="353.9" stroke="#1a1a1a" stroke-width="1"/>
<line x1="740.8" y1="362.2" x2="740.8" y2="359.9" stroke="#1a1a1a" stroke-width="1"/>
<line x1="749.9" y1="362.2" x2="749.9" y2="360.9" stroke="#1a1a1a" stroke-width="1"/>
<line x1="584.4" y1="434.8" x2="584.4" y2="433.2" stroke="#1a1a1a" stroke-width="1"/>
<line x1="587.5" y1="434.8" x2="587.5" y2="433.5" stroke="#1a1a1a" stroke-width="1"/>
<line x1="590.8" y1="434.8" x2="590.8" y2="425.1" stroke="#1a1a1a" stroke-width="1"/>
<line x1="594.1" y1="434.8" x2="594.1" y2="432" stroke="#1a1a1a" stroke-width="1"/>
<line x1="597.5" y1="434.8" x2="597.5" y2="433.5" stroke="#1a1a1a" stroke-width="1"/>
<line x1="697.3" y1="434.8" x2="697.3" y2="433" stroke="#1a1a1a" stroke-width="1"/>
<line x1="703.5" y1="434.8" x2="703.5" y2="427.9" stroke="#1a1a1a" stroke-width="1"/>
<line x1="706.4" y1="434.8" x2="706.4" y2="432.6" stroke="#1a1a1a" stroke-width="1"/>
<line x1="709.4" y1="434.8" x2="709.4" y2="431.9" stroke="#1a1a1a" stroke-width="1"/>
<line x1="712.6" y1="434.8" x2="712.6" y2="433.2" stroke="#1a1a1a" stroke-width="1"/>
<line x1="728.4" y1="434.8" x2="728.4" y2="428.8" stroke="#1a1a1a" stroke-width="1"/>
<line x1="731.4" y1="434.8" x2="731.4" y2="432.7" stroke="#1a1a1a" stroke-width="1"/>
<line x1="734.6" y1="434.8" x2="734.6" y2="374.1" stroke="#1a1a1a" stroke-width="1"/>
<line x1="737.7" y1="434.8" x2="737.7" y2="420.2" stroke="#1a1a1a" stroke-width="1"/>
<line x1="740.8" y1="434.8" x2="740.8" y2="431" stroke="#1a1a1a" stroke-width="1"/>
<line x1="744.4" y1="434.8" x2="744.4" y2="433.3" stroke="#1a1a1a" stroke-width="1"/>
<line x1="747.6" y1="434.8" x2="747.6" y2="433.3" stroke="#1a1a1a" stroke-width="1"/>
<line x1="591.4" y1="507.0" x2="591.4" y2="503.6" stroke="#1a1a1a" stroke-width="1"/>
<line x1="703.5" y1="507.0" x2="703.5" y2="504.4" stroke="#1a1a1a" stroke-width="1"/>
<line x1="706.4" y1="507.0" x2="706.4" y2="505.8" stroke="#1a1a1a" stroke-width="1"/>
<line x1="709.4" y1="507.0" x2="709.4" y2="504.1" stroke="#1a1a1a" stroke-width="1"/>
<line x1="712.6" y1="507.0" x2="712.6" y2="505.8" stroke="#1a1a1a" stroke-width="1"/>
<line x1="716.2" y1="507.0" x2="716.2" y2="506" stroke="#1a1a1a" stroke-width="1"/>
<line x1="734.6" y1="507.0" x2="734.6" y2="482.9" stroke="#1a1a1a" stroke-width="1"/>
<line x1="737.7" y1="507.0" x2="737.7" y2="501" stroke="#1a1a1a" stroke-width="1"/>
<line x1="740.8" y1="507.0" x2="740.8" y2="504.9" stroke="#1a1a1a" stroke-width="1"/>
<text x="675" y="305.2" font-size="5.5" text-anchor="start" font-weight="bold" font-family='"Liberation Sans", Arial, sans-serif' fill="#000" letter-spacing="0.2">483.2272</text>
<text x="717.7" y="327.2" font-size="5.5" text-anchor="start" font-weight="bold" font-family='"Liberation Sans", Arial, sans-serif' fill="#000" letter-spacing="0.2">493.2334</text>
<text x="705.7" y="379.3" font-size="5.5" text-anchor="start" font-weight="bold" font-family='"Liberation Sans", Arial, sans-serif' fill="#000" letter-spacing="0.2">493.2334</text>
<text x="683.2" y="420.9" font-size="5.5" text-anchor="start" font-weight="bold" font-family='"Liberation Sans", Arial, sans-serif' fill="#000" letter-spacing="0.2">483.2072</text>
<text x="719.3" y="477.7" font-size="5.5" text-anchor="start" font-weight="bold" font-family='"Liberation Sans", Arial, sans-serif' fill="#000" letter-spacing="0.2">493.2330</text>
</svg></body></html>
